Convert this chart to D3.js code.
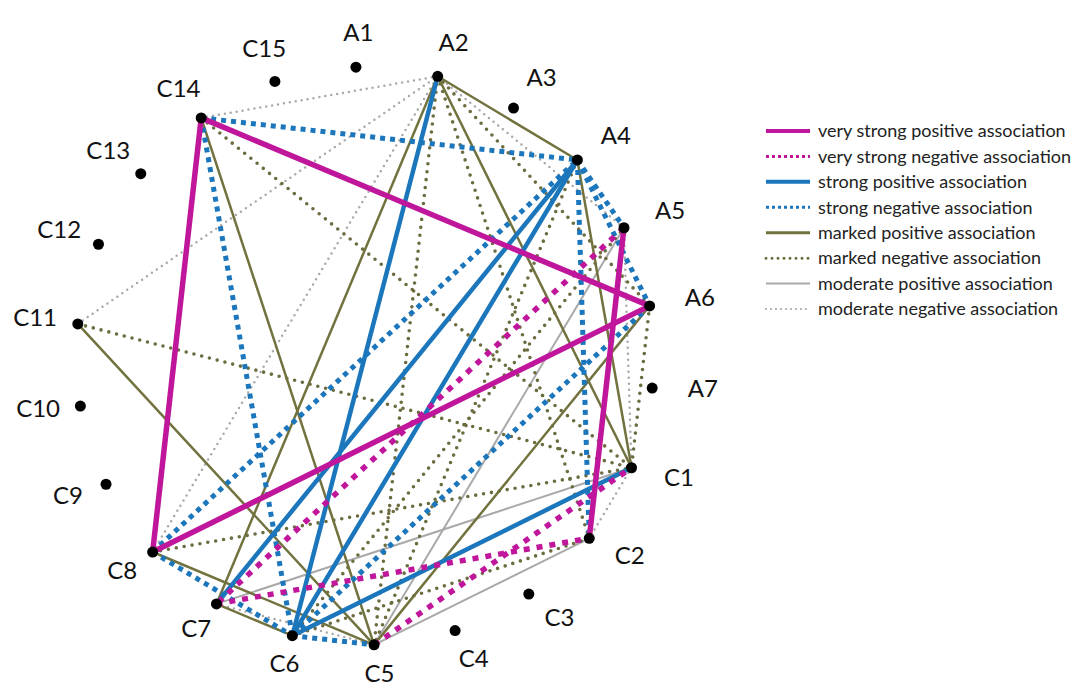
<!DOCTYPE html>
<html>
<head>
<meta charset="utf-8">
<script src="https://cdn.jsdelivr.net/npm/d3@7"></script>
<style>
  body { margin: 0; background: #fff; }
  text { font-family: Lato, "Open Sans", sans-serif; }
</style>
</head>
<body>
<script>
// nodes in order round the circle, clockwise from the top
let nodes = ["A1", "A2", "A3", "A4", "A5", "A6", "A7",
  "C1", "C2", "C3", "C4", "C5", "C6", "C7", "C8", "C9", "C10", "C11", "C12", "C13", "C14", "C15"];

let legendLabels = [
  "very strong positive association",
  "very strong negative association",
  "strong positive association",
  "strong negative association",
  "marked positive association",
  "marked negative association",
  "moderate positive association",
  "moderate negative association"
];

// links for each association type (same order as legend)
let veryStrongPositive = [["C14", "C8"], ["C14", "A6"], ["C8", "A6"], ["A5", "C2"]];
let veryStrongNegative = [["A5", "C7"], ["C7", "C2"], ["C5", "C1"]];
let strongPositive = [["A2", "C6"], ["A4", "C7"], ["A4", "C6"], ["C6", "C1"]];
let strongNegative = [["C14", "A4"], ["C14", "C6"], ["C8", "A4"], ["A4", "A5"], ["A4", "A6"],
  ["A4", "C2"], ["A6", "C6"], ["C8", "C6"], ["C6", "C5"]];
let markedPositive = [["A2", "A4"], ["A2", "C7"], ["A2", "C1"], ["A4", "C1"], ["A6", "C5"],
  ["C14", "C5"], ["C11", "C5"], ["C8", "C5"], ["C7", "C6"]];
let markedNegative = [["C11", "C1"], ["C14", "C1"], ["A2", "C5"], ["A2", "C2"], ["A2", "A6"],
  ["A4", "C5"], ["A6", "C1"], ["C8", "C1"], ["C6", "C2"], ["C6", "A5"]];
let moderatePositive = [["A5", "C5"], ["C7", "C1"], ["C5", "C2"]];
let moderateNegative = [["C14", "A2"], ["C11", "A2"], ["C8", "A2"], ["A2", "A5"], ["A5", "C1"],
  ["C1", "C2"], ["C7", "C5"]];

let linkSets = [veryStrongPositive, veryStrongNegative, strongPositive, strongNegative,
  markedPositive, markedNegative, moderatePositive, moderateNegative];

// line look per type
let styles = [
  {color: "#c0169c", w: 5.5, dash: null,  cap: "butt",  lw: 4,   ldash: null},
  {color: "#c0169c", w: 5.5, dash: "6,7", cap: "butt",  lw: 3,   ldash: "3,3"},
  {color: "#1b76bc", w: 4.5, dash: null,  cap: "butt",  lw: 4,   ldash: null},
  {color: "#1b76bc", w: 5,   dash: "5,5", cap: "butt",  lw: 3,   ldash: "3,3"},
  {color: "#72723f", w: 2.5, dash: null,  cap: "butt",  lw: 3,   ldash: null},
  {color: "#6c6c40", w: 3.6, dash: "0,8", cap: "round", lw: 3,   ldash: "0,6"},
  {color: "#a9a9a9", w: 2,   dash: null,  cap: "butt",  lw: 2,   ldash: null},
  {color: "#a9a9a9", w: 2.5, dash: "0,6", cap: "round", lw: 2.2, ldash: "0,5"}
];

let width = 1089, height = 686;
let cx = 365, cy = 356, radius = 289;

let svg = d3.select("body").append("svg")
  .attr("width", width)
  .attr("height", height);

// angle round the circle for each node
let start = -1.8 * Math.PI / 180;
let step = 2 * Math.PI / nodes.length;
let angle = d3.scalePoint()
  .domain(nodes)
  .range([start, start + step * (nodes.length - 1)]);

let px = n => cx + radius * Math.sin(angle(n));
let py = n => cy - radius * Math.cos(angle(n));

// links, thinnest types first so the strong ones sit on top
let links = [];
linkSets.forEach((set, t) => set.forEach(p => links.push({s: p[0], t: p[1], type: t})));
links.sort((a, b) => b.type - a.type);

svg.append("g").selectAll("line")
  .data(links)
  .enter()
  .append("line")
    .attr("x1", d => px(d.s))
    .attr("y1", d => py(d.s))
    .attr("x2", d => px(d.t))
    .attr("y2", d => py(d.t))
    .attr("stroke", d => styles[d.type].color)
    .attr("stroke-width", d => styles[d.type].w)
    .attr("stroke-dasharray", d => styles[d.type].dash)
    .attr("stroke-linecap", d => styles[d.type].cap);

// node dots
svg.append("g").selectAll("circle")
  .data(nodes)
  .enter()
  .append("circle")
    .attr("cx", d => px(d))
    .attr("cy", d => py(d))
    .attr("r", 5.5)
    .attr("fill", "#000");

// node labels, pushed outwards
svg.append("g").selectAll("text")
  .data(nodes)
  .enter()
  .append("text")
    .attr("x", d => px(d) + 47 * Math.sin(angle(d)) + 4)
    .attr("y", d => Math.min(py(d) - 32 * Math.cos(angle(d)) - 3, 673))
    .attr("dy", "0.36em")
    .attr("text-anchor", "middle")
    .attr("font-size", 24)
    .attr("fill", "#111")
    .text(d => d);

// legend
let legendY = d3.scalePoint()
  .domain(legendLabels)
  .range([131, 309]);

let legend = svg.append("g").selectAll("g")
  .data(legendLabels)
  .enter()
  .append("g")
    .attr("transform", d => "translate(0," + legendY(d) + ")");

legend.append("line")
  .attr("x1", 766)
  .attr("x2", 810)
  .attr("stroke", (d, i) => styles[i].color)
  .attr("stroke-width", (d, i) => styles[i].lw)
  .attr("stroke-dasharray", (d, i) => styles[i].ldash)
  .attr("stroke-linecap", (d, i) => styles[i].cap);

legend.append("text")
  .attr("x", 818)
  .attr("dy", "0.35em")
  .attr("font-size", 18)
  .attr("fill", "#222")
  .text(d => d);
</script>
</body>
</html>
